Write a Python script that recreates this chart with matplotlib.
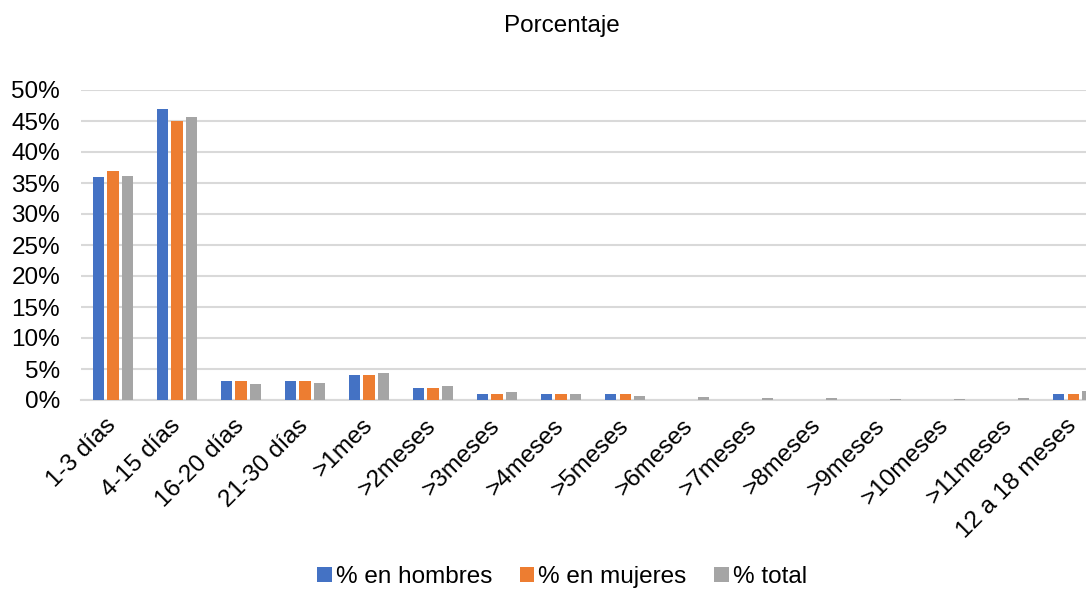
import numpy as np
import matplotlib.pyplot as plt
from matplotlib.ticker import FuncFormatter

plt.rcParams['font.family'] = ['Liberation Sans', 'DejaVu Sans']

# categories and series (percent)
categorias = ['1-3 días', '4-15 días', '16-20 días', '21-30 días', '>1mes', '>2meses',
              '>3meses', '>4meses', '>5meses', '>6meses', '>7meses', '>8meses',
              '>9meses', '>10meses', '>11meses', '12 a 18 meses']
hombres = [36, 47, 3, 3, 4, 2, 1, 1, 1, 0, 0, 0, 0, 0, 0, 1]
mujeres = [37, 45, 3, 3, 4, 2, 1, 1, 1, 0, 0, 0, 0, 0, 0, 1]
total = [36.2, 45.7, 2.6, 2.8, 4.4, 2.2, 1.3, 0.9, 0.6, 0.5, 0.3, 0.3, 0.15, 0.15, 0.25, 1.4]
series = [('% en hombres', hombres, '#4472C4'),
          ('% en mujeres', mujeres, '#ED7D31'),
          ('% total', total, '#A5A5A5')]

fs = 17.5
fig = plt.figure(figsize=(10.86, 5.91), dpi=100)
ax = fig.add_axes([81 / 1086, 1 - 400 / 591, 1 - 81 / 1086, 310 / 591])

x = np.arange(len(categorias))
w = 0.175
offs = [-0.228, 0, 0.228]
for (name, vals, col), o in zip(series, offs):
    ax.bar(x + o, vals, width=w, color=col, label=name, zorder=3)

ax.set_xlim(-0.5, 15.2)
ax.set_ylim(0, 50)
ax.set_yticks(np.arange(0, 51, 5))
ax.yaxis.set_major_formatter(FuncFormatter(lambda v, p: '%d%%' % v))
ax.grid(axis='y', color='#d9d9d9', linewidth=1.5, zorder=0)
for s in ['top', 'right', 'left']:
    ax.spines[s].set_visible(False)
ax.spines['bottom'].set_color('#d9d9d9')
ax.spines['bottom'].set_linewidth(1.5)
ax.tick_params(axis='both', length=0, labelsize=fs, colors='#000000')
ax.tick_params(axis='y', pad=15)
ax.tick_params(axis='x', pad=16)
ax.set_xticks(x)
ax.set_xticklabels(categorias, rotation=45, ha='right', va='center', rotation_mode='anchor')

fig.text(562 / 1086, 1 - 26 / 591, 'Porcentaje', ha='center', va='center', fontsize=fs)

fig.legend(loc='center', bbox_to_anchor=(562 / 1086, 1 - 577 / 591), ncol=3,
           frameon=False, fontsize=fs, handlelength=0.6, handleheight=0.6,
           handletextpad=0.15, columnspacing=1.15, borderpad=0.2)

fig.savefig('out.png', dpi=100)
